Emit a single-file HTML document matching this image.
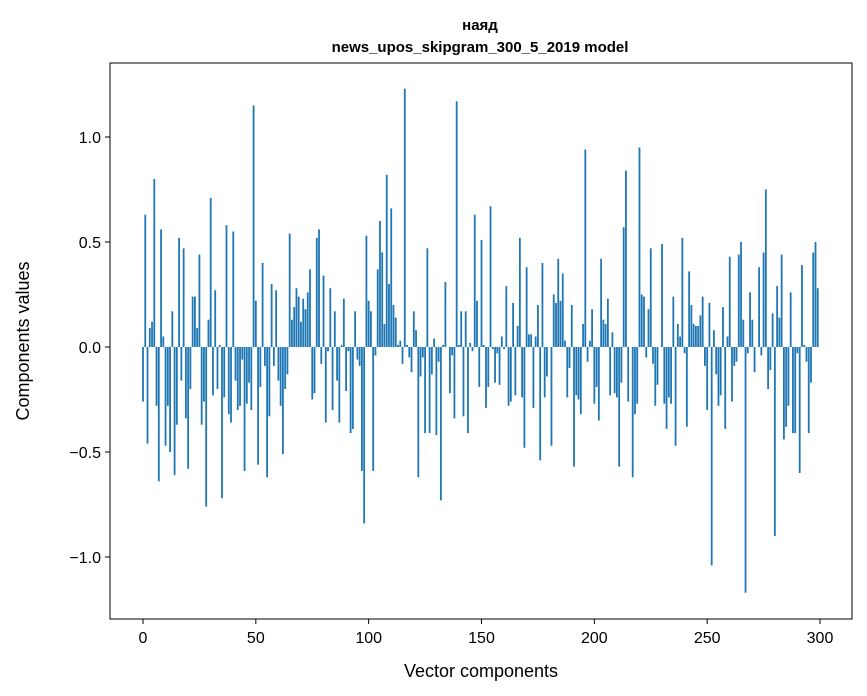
<!DOCTYPE html>
<html><head><meta charset="utf-8"><style>
html,body{margin:0;padding:0;background:#fff;}
svg{display:block;font-family:"Liberation Sans","DejaVu Sans",sans-serif;}
</style></head><body>
<svg id="chart" width="867" height="696" viewBox="0 0 867 696">
<rect x="0" y="0" width="867" height="696" fill="#fff"/>
<text x="480" y="30" text-anchor="middle" font-size="15" font-weight="bold">наяд</text>
<text x="480" y="52" text-anchor="middle" font-size="15" font-weight="bold">news_upos_skipgram_300_5_2019 model</text>
<g id="bars"></g>
<g id="axes"></g>
<rect x="110" y="63" width="742" height="556" fill="none" stroke="#000" stroke-width="1"/>
<text x="481" y="677" text-anchor="middle" font-size="18">Vector components</text>
<text transform="translate(29,341) rotate(-90)" text-anchor="middle" font-size="18">Components values</text>
</svg>
<script>
const values = [
-0.26,0.63,-0.46,0.09,0.12,0.80,-0.28,-0.64,0.56,0.05,
-0.47,-0.28,-0.50,0.17,-0.61,-0.37,0.52,-0.16,0.47,-0.34,
-0.58,-0.20,0.24,0.24,0.09,0.44,-0.37,-0.26,-0.76,0.13,
0.71,-0.23,0.27,-0.20,0.01,-0.72,-0.24,0.58,-0.32,-0.36,
0.55,-0.16,-0.30,-0.28,-0.06,-0.59,-0.27,-0.17,-0.30,1.15,
0.22,-0.56,-0.19,0.40,-0.09,-0.62,-0.33,0.30,-0.09,0.27,
-0.16,-0.28,-0.51,-0.20,-0.13,0.54,0.13,0.19,0.28,0.24,
0.12,0.23,0.18,0.26,0.37,-0.25,-0.22,0.52,0.56,-0.08,
0.34,-0.36,-0.02,0.28,-0.30,0.17,-0.16,-0.36,0.01,0.23,
-0.21,-0.02,-0.41,-0.39,0.17,-0.06,-0.09,-0.59,-0.84,0.53,
0.22,0.17,-0.59,-0.04,0.37,0.60,0.45,0.11,0.82,0.30,
0.66,0.20,0.14,0.01,0.03,-0.08,1.23,0.01,-0.05,-0.12,
0.17,0.08,-0.62,-0.14,-0.05,-0.41,0.47,-0.41,-0.13,0.04,
-0.42,-0.07,-0.73,0.01,0.31,0.00,-0.22,-0.04,-0.34,1.17,
0.01,0.17,-0.33,0.17,-0.41,0.02,-0.02,0.63,0.22,-0.19,
0.51,0.01,-0.29,-0.19,0.67,-0.01,-0.17,-0.03,-0.18,0.05,
-0.01,0.29,-0.28,-0.26,0.21,-0.23,0.10,0.52,-0.24,-0.48,
0.38,0.06,0.06,-0.29,0.05,0.20,-0.54,0.40,-0.24,-0.14,
0.00,-0.47,0.25,0.21,0.42,0.22,0.35,0.03,-0.24,-0.10,
0.20,-0.57,-0.23,-0.25,-0.32,0.11,0.94,-0.07,0.03,0.18,
-0.27,-0.19,-0.35,0.42,0.13,0.11,0.23,-0.23,0.07,-0.22,
-0.24,-0.57,-0.17,0.57,0.84,-0.26,0.00,-0.62,-0.32,-0.27,
0.95,0.25,0.24,-0.05,0.18,0.47,-0.08,-0.28,-0.18,0.00,
0.49,-0.27,-0.39,-0.24,-0.27,0.24,-0.47,0.11,0.05,0.52,
-0.03,-0.38,0.36,0.20,0.11,0.10,0.10,0.15,0.24,-0.09,
-0.30,0.21,-1.04,0.08,-0.13,-0.28,-0.23,0.19,-0.39,0.05,
0.43,-0.26,-0.09,-0.07,0.44,0.50,0.13,-1.17,-0.03,0.26,
0.13,-0.12,0.00,0.38,-0.04,0.45,0.75,-0.20,-0.11,0.16,
-0.90,0.29,0.14,0.44,-0.44,-0.38,-0.28,0.26,-0.41,-0.41,
-0.03,-0.60,0.39,0.01,-0.07,-0.41,-0.17,0.45,0.50,0.28
];
const xTicks = [0,50,100,150,200,250,300];
const yTicks = [-1.0,-0.5,0.0,0.5,1.0];
const yTickLabels = ["\u22121.0","\u22120.5","0.0","0.5","1.0"];

const NS = "http://www.w3.org/2000/svg";
const xScale = v => 143 + v * 2.2567;
const yScale = v => 347 - v * 210;
const bars = document.getElementById('bars');
values.forEach((v, i) => {
  const r = document.createElementNS(NS, 'rect');
  const x0 = xScale(i - 0.4), x1 = xScale(i + 0.4);
  const y0 = yScale(Math.max(v, 0)), y1 = yScale(Math.min(v, 0));
  r.setAttribute('x', x0);
  r.setAttribute('width', x1 - x0);
  r.setAttribute('y', y0);
  r.setAttribute('height', Math.max(y1 - y0, 0.01));
  r.setAttribute('fill', '#1f77b4');
  
  
  bars.appendChild(r);
});
const axes = document.getElementById('axes');
xTicks.forEach(t => {
  const x = xScale(t);
  const l = document.createElementNS(NS, 'line');
  l.setAttribute('x1', x); l.setAttribute('x2', x);
  l.setAttribute('y1', 619); l.setAttribute('y2', 624);
  l.setAttribute('stroke', '#000');
  
  
  axes.appendChild(l);
  const tx = document.createElementNS(NS, 'text');
  tx.setAttribute('x', x); tx.setAttribute('y', 643);
  tx.setAttribute('text-anchor', 'middle');
  tx.setAttribute('font-size', '16');
  tx.textContent = t;
  
  
  axes.appendChild(tx);
});
yTicks.forEach((t, k) => {
  const y = yScale(t);
  const l = document.createElementNS(NS, 'line');
  l.setAttribute('x1', 105); l.setAttribute('x2', 110);
  l.setAttribute('y1', y); l.setAttribute('y2', y);
  l.setAttribute('stroke', '#000');
  
  
  axes.appendChild(l);
  const tx = document.createElementNS(NS, 'text');
  tx.setAttribute('x', 101); tx.setAttribute('y', y + 6);
  tx.setAttribute('text-anchor', 'end');
  tx.setAttribute('font-size', '16');
  tx.textContent = yTickLabels[k];
  
  
  axes.appendChild(tx);
});
</script>
</body></html>
